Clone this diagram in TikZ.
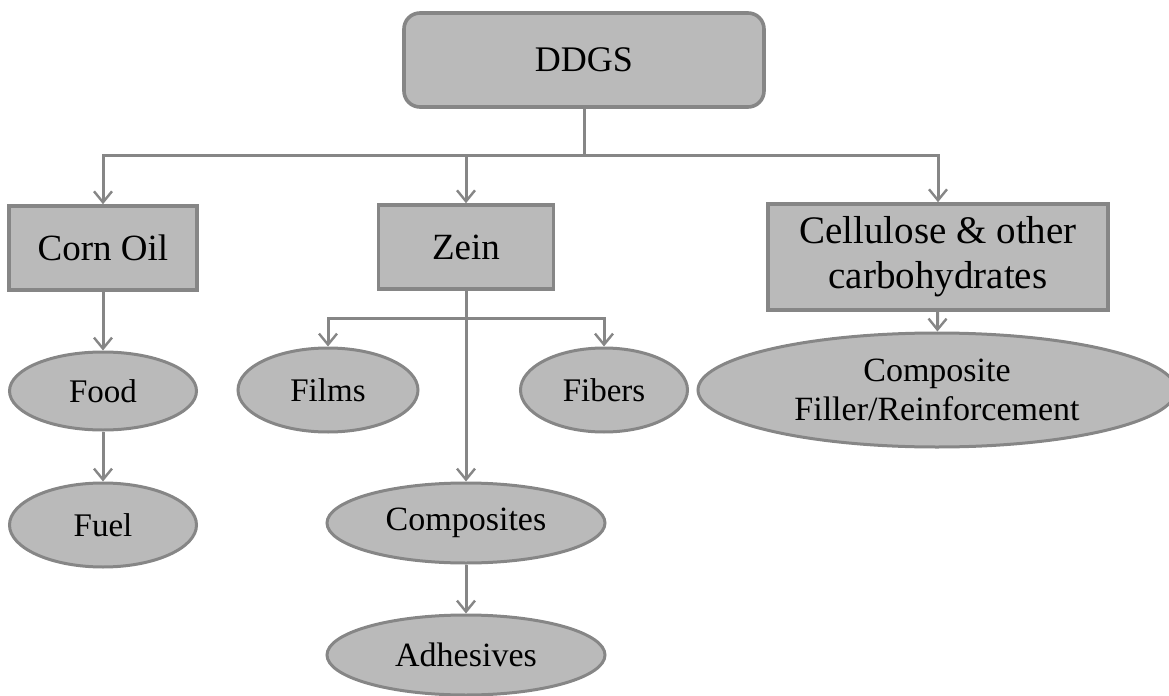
\documentclass[tikz,border=0pt]{standalone}
\usepackage{fontspec}
\setmainfont{Liberation Serif}
\usetikzlibrary{shapes.geometric,arrows.meta}
\definecolor{boxgray}{RGB}{186,186,186}
\definecolor{linegray}{RGB}{134,134,134}

\begin{document}
\begin{tikzpicture}[
    x=.5pt,y=-.5pt,
    link/.style={linegray,line width=1.5pt},
    arrow/.style={link,-{Straight Barb[length=5.5pt,width=9pt,line width=1.2pt]}},
    source/.style={draw=linegray,fill=boxgray,line width=1.8pt,rounded corners=8pt,
      inner sep=0pt,minimum width=180pt,minimum height=47pt,
      font=\fontsize{18}{20}\selectfont},
    part/.style={draw=linegray,fill=boxgray,line width=1.8pt,inner sep=0pt,
      align=center,font=\fontsize{18.5}{22}\selectfont},
    use/.style={ellipse,draw=linegray,fill=boxgray,line width=1.5pt,inner sep=0pt,
      align=center,font=\fontsize{16.5}{18}\selectfont}
  ]
    \useasboundingbox (0,0) rectangle (1169,696);

    % Raw material on top.
    \node[source] (ddgs) at (584,60) {DDGS};

    % The three fractions.
    \node[part,minimum width=94pt,minimum height=42pt] (cornoil) at (103,248) {Corn Oil};
    \node[part,minimum width=87.5pt,minimum height=42pt] (zein) at (466,247) {Zein};
    \node[part,minimum width=170pt,minimum height=53pt,
      font=\fontsize{19.5}{22.5}\selectfont] (cellulose) at (938,257)
      {Cellulose \& other\\carbohydrates};

    % Products of each fraction.
    \node[use,minimum width=93.5pt,minimum height=39pt] (food) at (103,391) {Food};
    \node[use,minimum width=93.5pt,minimum height=42pt] (fuel) at (103,525) {Fuel};
    \node[use,minimum width=90pt,minimum height=42pt] (films) at (328,390) {Films};
    \node[use,minimum width=83.5pt,minimum height=42pt] (fibers) at (604,390) {Fibers};
    \node[use,minimum width=139pt,minimum height=40pt,
      font=\fontsize{17}{19}\selectfont] (composites) at (466,523) {Composites};
    \node[use,minimum width=139pt,minimum height=40pt,
      font=\fontsize{17}{19}\selectfont] (adhesives) at (466,655) {Adhesives};
    \node[use,minimum width=239pt,minimum height=57pt,
      font=\fontsize{17}{19.5}\selectfont] (filler) at (937,390)
      {Composite\\Filler/Reinforcement};

    % Branch points of the tree.
    \coordinate (split) at (584,155);
    \coordinate (zsplit) at (466,318);

    \draw[link] (ddgs.south)--(split);
    \draw[arrow] (split)-|(cornoil.north);
    \draw[arrow] (split)-|(zein.north);
    \draw[arrow] (split)-|(cellulose.north);

    \draw[arrow] (cornoil)--(food);
    \draw[arrow] (food)--(fuel);

    \draw[arrow] (zein.south)--(composites.north);
    \draw[arrow] (zsplit)-|(films.north);
    \draw[arrow] (zsplit)-|(fibers.north);
    \draw[arrow] (composites)--(adhesives);

    \draw[arrow] (cellulose)--(filler);
  \end{tikzpicture}
\end{document}
